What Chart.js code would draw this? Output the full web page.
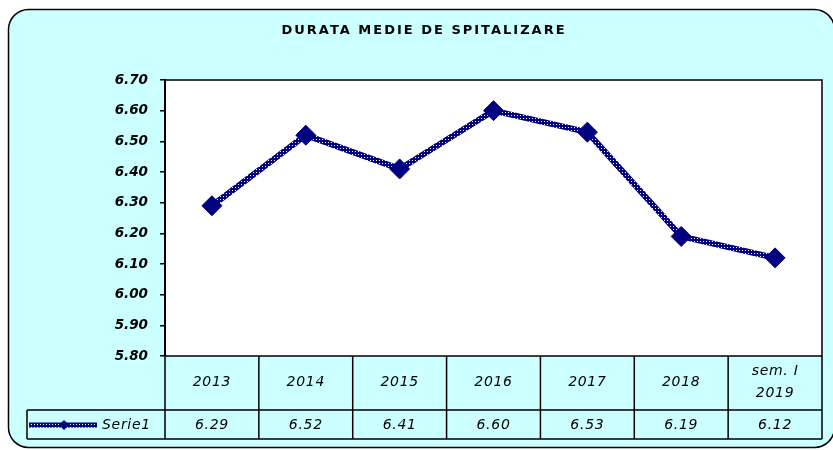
<!DOCTYPE html>
<html>
<head>
<meta charset="utf-8">
<script src="https://cdn.jsdelivr.net/npm/chart.js@4"></script>
<style>
  body { margin: 0; background: #fff; }
  #wrap { width: 833px; height: 450px; }
</style>
</head>
<body>
<div id="wrap"><canvas id="chart" width="833" height="450"></canvas></div>
<script>
const TITLE = "DURATA MEDIE DE SPITALIZARE";
const SERIES_NAME = "Serie1";
const categories = ["2013", "2014", "2015", "2016", "2017", "2018", ["sem. I", "2019"]];
const values = [6.29, 6.52, 6.41, 6.60, 6.53, 6.19, 6.12];
const yTicks = [5.8, 5.9, 6.0, 6.1, 6.2, 6.3, 6.4, 6.5, 6.6, 6.7];

const CYAN = "#ccffff";
const NAVY = "#000080";
const FONT = "'DejaVu Sans', sans-serif";

function makeHatch() {
  const tile = document.createElement("canvas");
  tile.width = 3;
  tile.height = 3;
  const g = tile.getContext("2d");
  g.fillStyle = NAVY;
  g.fillRect(0, 0, 3, 3);
  g.fillStyle = "#ffffff";
  g.fillRect(1, 1, 1, 1);
  return g.createPattern(tile, "repeat");
}

const hatch = makeHatch();

function roundRect(ctx, x, y, w, h, r) {
  ctx.beginPath();
  ctx.moveTo(x + r, y);
  ctx.lineTo(x + w - r, y);
  ctx.arcTo(x + w, y, x + w, y + r, r);
  ctx.lineTo(x + w, y + h - r);
  ctx.arcTo(x + w, y + h, x + w - r, y + h, r);
  ctx.lineTo(x + r, y + h);
  ctx.arcTo(x, y + h, x, y + h - r, r);
  ctx.lineTo(x, y + r);
  ctx.arcTo(x, y, x + r, y, r);
  ctx.closePath();
}

const frame = {
  id: "frame",
  beforeDraw(chart) {
    const { ctx, chartArea: a } = chart;
    ctx.save();
    ctx.fillStyle = "#fff";
    ctx.fillRect(0, 0, chart.width, chart.height);
    roundRect(ctx, 8.5, 9.5, 826, 438, 20);
    ctx.fillStyle = CYAN;
    ctx.fill();
    ctx.lineWidth = 1.5;
    ctx.strokeStyle = "#000";
    ctx.stroke();
    ctx.fillStyle = "#fff";
    ctx.fillRect(a.left, a.top, a.right - a.left, a.bottom - a.top);
    ctx.restore();
  },
  afterDraw(chart) {
    const { ctx, chartArea: a } = chart;
    const x = chart.scales.x;
    const colW = (a.right - a.left) / values.length;
    const rowMid = 410;
    const rowBot = 439;
    const legendLeft = 27;

    ctx.save();
    // plot border
    ctx.strokeStyle = "#000";
    ctx.lineWidth = 1.5;
    ctx.strokeRect(a.left, a.top, a.right - a.left, a.bottom - a.top);

    // table grid
    ctx.beginPath();
    ctx.moveTo(legendLeft, rowMid);
    ctx.lineTo(a.right, rowMid);
    ctx.moveTo(legendLeft, rowBot);
    ctx.lineTo(a.right, rowBot);
    ctx.moveTo(legendLeft, rowMid);
    ctx.lineTo(legendLeft, rowBot);
    for (let i = 0; i <= values.length; i++) {
      const cx = a.left + i * colW;
      ctx.moveTo(cx, a.bottom);
      ctx.lineTo(cx, rowBot);
    }
    ctx.stroke();

    // categories and values
    ctx.fillStyle = "#000";
    ctx.textAlign = "center";
    ctx.textBaseline = "middle";
    ctx.font = "oblique 14px " + FONT;
    ctx.letterSpacing = "0.7px";
    categories.forEach((cat, i) => {
      const cx = x.getPixelForValue(i);
      if (Array.isArray(cat)) {
        ctx.fillText(cat[0], cx, 371);
        ctx.fillText(cat[1], cx, 393);
      } else {
        ctx.fillText(cat, cx, 382);
      }
      ctx.fillText(values[i].toFixed(2), cx, 425);
    });

    // legend key
    ctx.strokeStyle = hatch;
    ctx.lineWidth = 5;
    ctx.beginPath();
    ctx.moveTo(29, 425);
    ctx.lineTo(97, 425);
    ctx.stroke();
    ctx.fillStyle = NAVY;
    ctx.beginPath();
    ctx.moveTo(64, 420);
    ctx.lineTo(69, 425);
    ctx.lineTo(64, 430);
    ctx.lineTo(59, 425);
    ctx.closePath();
    ctx.fill();
    ctx.fillStyle = "#000";
    ctx.textAlign = "left";
    ctx.fillText(SERIES_NAME, 102, 425);

    // title
    ctx.font = "bold 13px " + FONT;
    ctx.letterSpacing = "2px";
    ctx.textAlign = "center";
    ctx.fillText(TITLE, 424, 31);
    ctx.restore();
  }
};

new Chart(document.getElementById("chart"), {
  type: "line",
  data: {
    labels: categories,
    datasets: [{
      label: SERIES_NAME,
      data: values,
      borderColor: hatch,
      borderWidth: 6,
      tension: 0,
      pointStyle: "rectRot",
      pointRadius: 10,
      pointHoverRadius: 10,
      pointBackgroundColor: NAVY,
      pointBorderColor: NAVY,
      pointBorderWidth: 1,
    }],
  },
  options: {
    responsive: false,
    animation: false,
    events: [],
    layout: { padding: { top: 80, right: 6, bottom: 94, left: 0 } },
    plugins: {
      legend: { display: false },
      title: { display: false },
      tooltip: { enabled: false },
    },
    scales: {
      x: {
        display: false,
        offset: true,
      },
      y: {
        min: 5.8,
        max: 6.7,
        afterFit: (scale) => { scale.width = 165; },
        afterBuildTicks: (scale) => { scale.ticks = yTicks.map((v) => ({ value: v })); },
        ticks: {
          color: "#000",
          padding: 12,
          font: { family: FONT, size: 13.5, style: "oblique", weight: "bold" },
          callback: (value) => Number(value).toFixed(2),
        },
        grid: {
          drawOnChartArea: false,
          drawTicks: true,
          tickLength: 5,
          color: "#000",
          lineWidth: 1.5,
        },
        border: { display: true, color: "#000", width: 2 },
      },
    },
  },
  plugins: [frame],
});
</script>
</body>
</html>
